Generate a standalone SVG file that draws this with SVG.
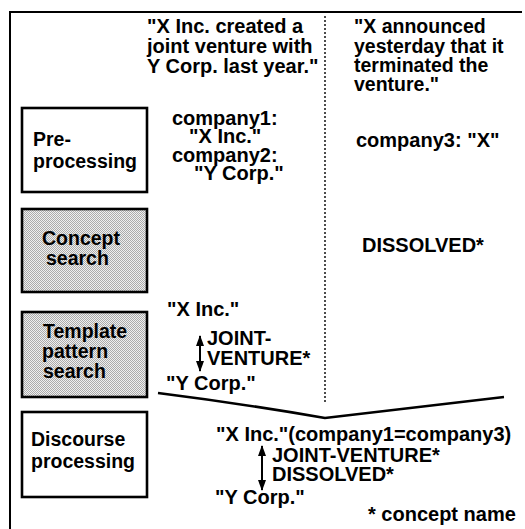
<svg xmlns="http://www.w3.org/2000/svg" width="525" height="529" viewBox="0 0 525 529">
  <style>
    text { font-family: "Liberation Sans", Arial, Helvetica, sans-serif; font-weight: bold; font-size: 20px; fill: #000; }
    .label { font-size: 19.5px; }
    .box { stroke: #000; stroke-width: 2.6; }
    .plain { fill: #fff; }
    .stipple { fill: url(#dots); }
    .frame { stroke: #000; stroke-width: 2; fill: none; }
    .divider { stroke: #000; stroke-width: 1.4; stroke-dasharray: 2 2; fill: none; }
    .link { stroke: #000; stroke-width: 2.5; fill: none; }
    .dbl { stroke: #000; stroke-width: 2; fill: none; marker-start: url(#head); marker-end: url(#head); }
  </style>
  <defs>
    <pattern id="dots" width="2" height="2" patternUnits="userSpaceOnUse">
      <rect width="2" height="2" fill="#efefef"/>
      <rect width="1" height="1" fill="#ababab"/>
      <rect x="1" y="1" width="1" height="1" fill="#ababab"/>
    </pattern>
    <marker id="head" viewBox="0 0 11 8" refX="10" refY="4" markerWidth="11" markerHeight="8" markerUnits="userSpaceOnUse" orient="auto-start-reverse">
      <path d="M0,0 L11,4 L0,8 Z" fill="#000"/>
    </marker>
  </defs>

  <rect width="525" height="529" fill="#fff"/>

  <!-- outer frame: top and left edges only -->
  <path class="frame" d="M10,529 V12 H522"/>
  <!-- column divider between the two sentences -->
  <path class="divider" d="M325,16 V404"/>

  <!-- processing stages -->
  <g id="preprocessing">
    <rect class="box plain" x="22" y="108" width="125" height="84"/>
    <text class="label" x="33" y="146">Pre-</text>
    <text class="label" x="33" y="168">processing</text>
  </g>
  <g id="concept-search">
    <rect class="box stipple" x="22" y="209" width="125" height="83"/>
    <text class="label" x="42" y="245">Concept</text>
    <text class="label" x="46" y="265">search</text>
  </g>
  <g id="template-pattern-search">
    <rect class="box stipple" x="22" y="312" width="125" height="85"/>
    <text class="label" x="43" y="338">Template</text>
    <text class="label" x="42" y="358">pattern</text>
    <text class="label" x="43" y="378">search</text>
  </g>
  <g id="discourse-processing">
    <rect class="box plain" x="22" y="412" width="125" height="85"/>
    <text class="label" x="31" y="446">Discourse</text>
    <text class="label" x="31" y="468">processing</text>
  </g>

  <!-- input sentences -->
  <g id="sentence-1">
    <text x="147" y="33">"X Inc. created a</text>
    <text x="147" y="53">joint venture with</text>
    <text x="147" y="73">Y Corp. last year."</text>
  </g>
  <g id="sentence-2" class="label">
    <text class="label" x="354" y="33">"X announced</text>
    <text class="label" x="354" y="53">yesterday that it</text>
    <text class="label" x="354" y="72">terminated the</text>
    <text class="label" x="354" y="91">venture."</text>
  </g>

  <!-- per-stage results -->
  <g id="companies-1">
    <text x="172" y="125">company1:</text>
    <text x="189" y="143">"X Inc."</text>
    <text x="172" y="162">company2:</text>
    <text x="194" y="180">"Y Corp."</text>
  </g>
  <g id="company-3">
    <text x="356" y="147">company3: "X"</text>
  </g>
  <g id="concept-dissolved">
    <text x="362" y="252">DISSOLVED*</text>
  </g>
  <g id="template-result">
    <text x="167" y="316">"X Inc."</text>
    <text x="207" y="345">JOINT-</text>
    <text x="207" y="365">VENTURE*</text>
    <text x="166" y="390">"Y Corp."</text>
  </g>
  <g id="discourse-result">
    <text x="216" y="441">"X Inc."(company1=company3)</text>
    <text x="272" y="462">JOINT-VENTURE*</text>
    <text x="272" y="481">DISSOLVED*</text>
    <text x="215" y="504">"Y Corp."</text>
  </g>
  <g id="legend">
    <text x="368" y="521">* concept name</text>
  </g>

  <!-- connectors -->
  <g id="connectors">
    <path class="dbl" d="M200,336 V371"/>
    <path class="dbl" d="M262,446 V490"/>
    <path class="link" d="M158,393 Q245,404 325,418 L504,397"/>
  </g>
</svg>
